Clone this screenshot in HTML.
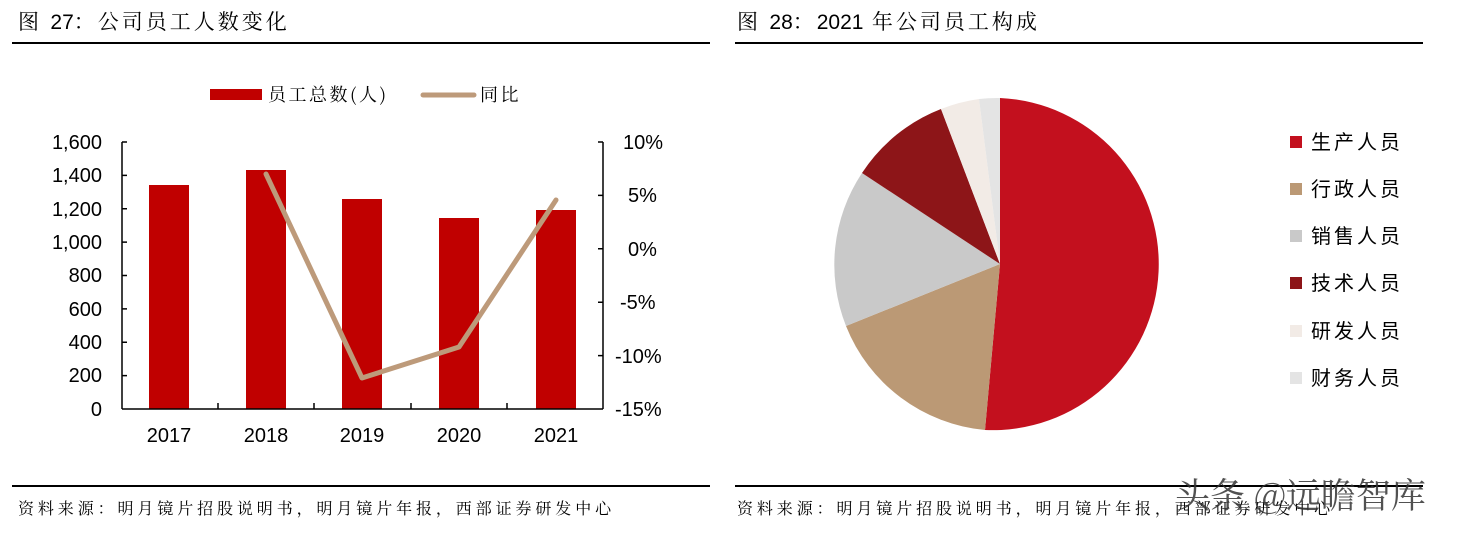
<!DOCTYPE html>
<html><head><meta charset="utf-8"><style>
html,body{margin:0;padding:0;background:#fff;width:1457px;height:534px;overflow:hidden}
svg{display:block}
text{font-family:"Liberation Sans","Noto Sans CJK SC",sans-serif;fill:#000}
.cj{font-family:"Noto Serif CJK SC","Noto Sans CJK SC",serif}
.n{font-family:"Liberation Sans",sans-serif;letter-spacing:0}
</style></head><body>
<svg width="1457" height="534" viewBox="0 0 1457 534">
<text x="18" y="29" font-size="21" class="cj" letter-spacing="3">图 <tspan class="n">27</tspan>：公司员工人数变化</text>
<rect x="12" y="42" width="698" height="2" fill="#000"/>
<text x="737" y="29" font-size="21" class="cj" letter-spacing="3">图 <tspan class="n">28</tspan>：<tspan class="n">2021</tspan> 年公司员工构成</text>
<rect x="735" y="42" width="688" height="2" fill="#000"/>
<rect x="12" y="485" width="698" height="2" fill="#000"/>
<rect x="735" y="485" width="688" height="2" fill="#000"/>
<text x="18" y="514" font-size="16" class="cj" letter-spacing="3.9">资料来源：明月镜片招股说明书，明月镜片年报，西部证券研发中心</text>
<text x="737" y="514" font-size="16" class="cj" letter-spacing="3.9">资料来源：明月镜片招股说明书，明月镜片年报，西部证券研发中心</text>
<text x="1175" y="508" font-size="35" class="cj" style="fill:#333" opacity="0.85">头条 @远瞻智库</text>

<rect x="210" y="89" width="52" height="11" fill="#c00000"/>
<text x="268" y="101" font-size="18" class="cj" letter-spacing="2.5">员工总数(人)</text>
<line x1="423" y1="95" x2="474" y2="95" stroke="#bd9a7a" stroke-width="5" stroke-linecap="round"/>
<text x="480" y="101" font-size="18" class="cj" letter-spacing="2.5">同比</text>

<g fill="#c00000">
<rect x="149" y="185" width="40" height="224"/>
<rect x="246" y="170" width="40" height="239"/>
<rect x="342" y="199" width="40" height="210"/>
<rect x="439" y="218" width="40" height="191"/>
<rect x="536" y="210" width="40" height="199"/>
</g>
<g stroke="#000" stroke-width="1.5" fill="none">
<line x1="122" y1="142" x2="122" y2="409"/>
<line x1="603" y1="142" x2="603" y2="409"/>
<line x1="122" y1="409" x2="603" y2="409"/>
<path d="M122 142h5M122 175.4h5M122 208.8h5M122 242.1h5M122 275.5h5M122 308.9h5M122 342.3h5M122 375.6h5"/>
<path d="M603 142h-5M603 195.4h-5M603 248.8h-5M603 302.2h-5M603 355.6h-5"/>
<path d="M218 409v-6M314 409v-6M411 409v-6M507 409v-6"/>
</g>
<polyline points="266,174 362,378 459,347 556,200" fill="none" stroke="#bd9a7a" stroke-width="5" stroke-linejoin="round" stroke-linecap="round"/>
<g font-size="20" text-anchor="end">
<text x="102" y="149">1,600</text><text x="102" y="182">1,400</text><text x="102" y="216">1,200</text>
<text x="102" y="249">1,000</text><text x="102" y="282">800</text><text x="102" y="316">600</text>
<text x="102" y="349">400</text><text x="102" y="382">200</text><text x="102" y="416">0</text>
</g>
<g font-size="20">
<text x="623" y="149">10%</text><text x="628" y="202">5%</text><text x="628" y="256">0%</text>
<text x="620" y="309">-5%</text><text x="615" y="363">-10%</text><text x="615" y="416">-15%</text>
</g>
<g font-size="20" text-anchor="middle">
<text x="169" y="442">2017</text><text x="266" y="442">2018</text><text x="362" y="442">2019</text>
<text x="459" y="442">2020</text><text x="556" y="442">2021</text>
</g>

<g transform="translate(1000,264)">
<path d="M0 0 L0 -166 A166 166 0 1 1 -15 166 Z" fill="#c3101e"/>
<path d="M0 0 L-15 166 A166 166 0 0 1 -154 62 Z" fill="#bb9975"/>
<path d="M0 0 L-154 62 A166 166 0 0 1 -138 -91 Z" fill="#c9c9c9"/>
<path d="M0 0 L-138 -91 A166 166 0 0 1 -59 -155 Z" fill="#8d1518"/>
<path d="M0 0 L-59 -155 A166 166 0 0 1 -21 -165 Z" fill="#f2ebe6"/>
<path d="M0 0 L-21 -165 A166 166 0 0 1 0 -166 Z" fill="#e4e4e4"/>
</g>
<g font-size="20" class="cj" letter-spacing="3">
<rect x="1290" y="136" width="12" height="12" fill="#c3101e"/><text x="1311" y="149">生产人员</text>
<rect x="1290" y="183" width="12" height="12" fill="#bb9975"/><text x="1311" y="196">行政人员</text>
<rect x="1290" y="230" width="12" height="12" fill="#c9c9c9"/><text x="1311" y="243">销售人员</text>
<rect x="1290" y="277" width="12" height="12" fill="#8d1518"/><text x="1311" y="290">技术人员</text>
<rect x="1290" y="325" width="12" height="12" fill="#f2ebe6"/><text x="1311" y="338">研发人员</text>
<rect x="1290" y="372" width="12" height="12" fill="#e4e4e4"/><text x="1311" y="385">财务人员</text>
</g>
</svg>
</body></html>
